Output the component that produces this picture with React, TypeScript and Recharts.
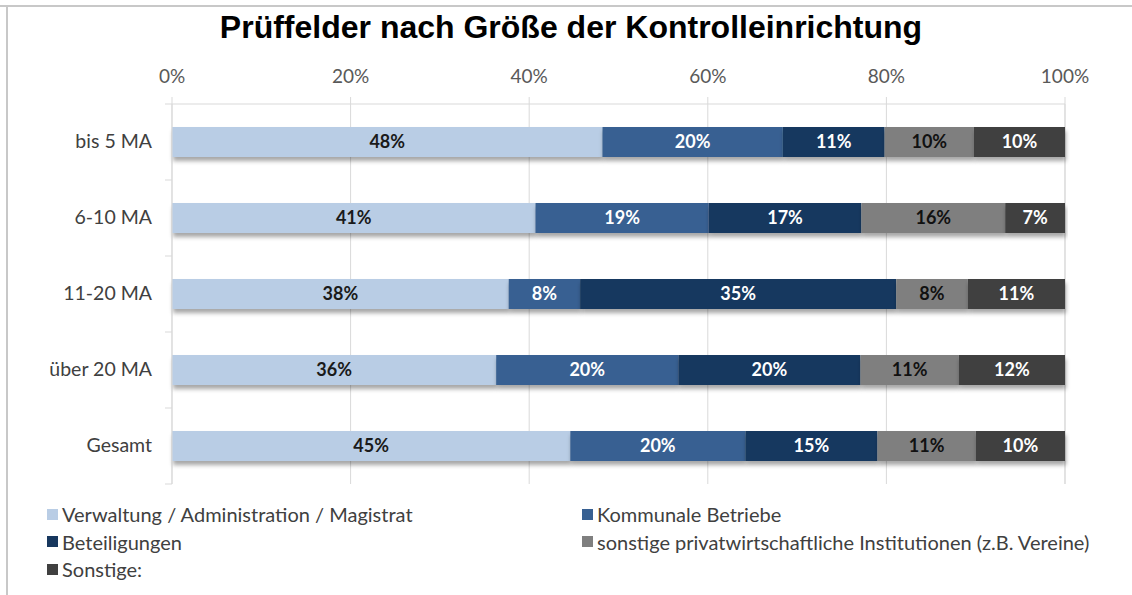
import React from 'react';
import {
  BarChart,
  Bar,
  XAxis,
  YAxis,
  CartesianGrid,
  LabelList,
} from 'recharts';

// categories (top to bottom)
const categories = ['bis 5 MA', '6-10 MA', '11-20 MA', 'über 20 MA', 'Gesamt'];

// shares in percent
const verwaltung = [48.2, 40.7, 37.7, 36.3, 44.6];
const kommunal = [20.2, 19.4, 8.0, 20.4, 19.6];
const beteiligungen = [11.4, 17.1, 35.4, 20.4, 14.8];
const privat = [10.0, 16.1, 8.0, 11.0, 11.0];
const sonstige = [10.2, 6.7, 10.9, 11.9, 10.0];

const xTicks = [0, 20, 40, 60, 80, 100];

const seriesNames = [
  'Verwaltung / Administration / Magistrat',
  'Kommunale Betriebe',
  'Beteiligungen',
  'sonstige privatwirtschaftliche Institutionen (z.B. Vereine)',
  'Sonstige:',
];

const series = [
  { key: 'verwaltung', name: seriesNames[0], fill: '#B9CDE5', text: '#1a1a1a' },
  { key: 'kommunal', name: seriesNames[1], fill: '#376092', text: '#ffffff' },
  { key: 'beteiligungen', name: seriesNames[2], fill: '#17375E', text: '#ffffff' },
  { key: 'privat', name: seriesNames[3], fill: '#7F7F7F', text: '#111111' },
  { key: 'sonstige', name: seriesNames[4], fill: '#404040', text: '#ffffff' },
];

const data = categories.map((name, i) => ({
  name,
  verwaltung: verwaltung[i],
  kommunal: kommunal[i],
  beteiligungen: beteiligungen[i],
  privat: privat[i],
  sonstige: sonstige[i],
}));

const W = 1132;
const H = 595;
const X_AXIS_H = 30;
const MARGIN = { top: 104 - X_AXIS_H, right: 67, bottom: 111, left: 8 };
const BAND = (H - 104 - MARGIN.bottom) / categories.length;
const FONT = 'Lato, "Open Sans", sans-serif';

// category label at the band centre, tick marks at the band edges (Excel style)
const CategoryTick = ({ x, y, payload, index }: any) => (
  <g>
    <line x1={x - 1} x2={x + 6} y1={y - BAND / 2} y2={y - BAND / 2} stroke="#D9D9D9" />
    {index === categories.length - 1 && (
      <line x1={x - 1} x2={x + 6} y1={y + BAND / 2} y2={y + BAND / 2} stroke="#D9D9D9" />
    )}
    <text x={x - 14} y={y} dy={6} textAnchor="end" fill="#404040" fontSize={19.5} fontFamily={FONT}>
      {payload.value}
    </text>
  </g>
);

const LegendBox = () => (
  <div
    style={{
      position: 'absolute',
      left: 47,
      top: 503,
      display: 'grid',
      gridTemplateColumns: '535px 535px',
      rowGap: 5.5,
      fontFamily: FONT,
      fontSize: 20,
      color: '#404040',
    }}
  >
    {series.map((s) => (
      <div key={s.key} style={{ display: 'flex', alignItems: 'center', height: 22 }}>
        <span style={{ width: 11, height: 11, background: s.fill, marginRight: 4, display: 'inline-block' }} />
        <span>{s.name}</span>
      </div>
    ))}
  </div>
);

export default function App() {
  return (
    <div style={{ position: 'absolute', left: 0, top: 0, width: W, height: H, background: '#fff' }}>
      <div style={{ position: 'absolute', left: 0, top: 5, width: W, height: 2, background: '#C8C8C8' }} />
      <div style={{ position: 'absolute', left: 6, top: 5, width: 2, height: H - 5, background: '#C8C8C8' }} />
      <div
        style={{
          position: 'absolute',
          left: 0,
          top: 8,
          width: 1142,
          textAlign: 'center',
          fontFamily: '"Liberation Sans", Arial, sans-serif',
          fontWeight: 'bold',
          fontSize: 32,
          lineHeight: '38px',
          color: '#000',
          zIndex: 2,
        }}
      >
        Prüffelder nach Größe der Kontrolleinrichtung
      </div>
      <BarChart width={W} height={H} data={data} layout="vertical" margin={MARGIN} barSize={30}>
        <defs>
          <filter id="barShadow" x="-5%" y="-20%" width="110%" height="160%">
            <feDropShadow dx="1" dy="4" stdDeviation="2" floodColor="#000" floodOpacity="0.35" />
          </filter>
        </defs>
        <CartesianGrid horizontal={false} stroke="#D9D9D9" />
        <XAxis
          type="number"
          orientation="top"
          domain={[0, 100]}
          ticks={xTicks}
          tickFormatter={(v: number) => `${v}%`}
          axisLine={{ stroke: '#D9D9D9' }}
          tickLine={{ stroke: '#D9D9D9' }}
          tickSize={7}
          tickMargin={14}
          tick={{ fill: '#595959', fontSize: 19, fontFamily: FONT }}
          height={X_AXIS_H}
        />
        <YAxis
          type="category"
          dataKey="name"
          width={164}
          axisLine={{ stroke: '#D9D9D9' }}
          tickLine={false}
          tick={<CategoryTick />}
          tickMargin={0}
        />
        {series.map((s) => (
          <Bar
            key={s.key}
            dataKey={s.key}
            name={s.name}
            stackId="a"
            fill={s.fill}
            isAnimationActive={false}
            style={{ filter: 'url(#barShadow)' }}
          >
            <LabelList
              dataKey={s.key}
              position="center"
              formatter={(v: number) => `${Math.round(v)}%`}
              fill={s.text}
              fontSize={18}
              fontWeight="bold"
              fontFamily={FONT}
            />
          </Bar>
        ))}
      </BarChart>
      <LegendBox />
    </div>
  );
}
